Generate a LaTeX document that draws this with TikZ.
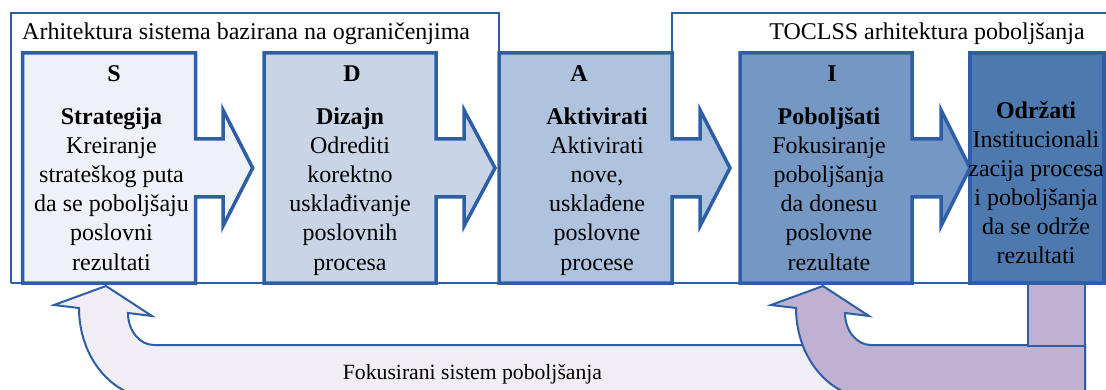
\documentclass[tikz,border=0pt]{standalone}
\usepackage{fontspec}
\setmainfont{Liberation Serif}
\definecolor{bord}{HTML}{2E5FA6}
\definecolor{sfill}{HTML}{EEF1F7}
\definecolor{dfill}{HTML}{C9D5E6}
\definecolor{afill}{HTML}{AFC2DE}
\definecolor{ifill}{HTML}{7597C4}
\definecolor{ofill}{HTML}{4E79AE}
\definecolor{lav}{HTML}{F0EEF4}
\definecolor{purp}{HTML}{BFB1D1}
\newcommand\stagepath[5]{%
  \filldraw[stage, fill=#1] (#2,53) -- (#3,53) -- (#3,139) -- (#4,139) -- (#4,110) -- (#5,168)
    -- (#4,226) -- (#4,197) -- (#3,197) -- (#3,283) -- (#2,283) -- cycle;}
\begin{document}
\begin{tikzpicture}[x=1pt,y=-1pt,
  frame/.style={draw=bord, line width=2pt},
  stage/.style={draw=bord, line width=3.5pt, line join=miter, miter limit=10},
  uarrow/.style={draw=bord, line width=2pt, line join=miter, miter limit=10},
  txt/.style={inner sep=0pt, anchor=base, font=\fontsize{24}{29}\selectfont},
  btxt/.style={txt, font=\fontsize{24}{29}\selectfont\bfseries}]
\useasboundingbox (0,0) rectangle (1106,390);
\clip (0,0) rectangle (1106,390);
% frames
\draw[frame] (10.7,283) -- (10.7,12.7) -- (499,12.7) -- (499,60);
\draw[frame] (672,60) -- (672,12.7) -- (1110,12.7);
\draw[frame] (10.7,283) -- (1110,283);
% bottom feedback arrows
\filldraw[uarrow, fill=lav] (106,286) -- (152,316) -- (128,313)
   .. controls (128,330.7) and (139.6,345) .. (154,345) -- (1085,345) -- (1085,410) -- (154,398)
   .. controls (112.6,398) and (79,357.7) .. (79,308) -- (54,305) -- cycle;
\filldraw[uarrow, fill=purp] (823,286) -- (869,316) -- (845,313)
   .. controls (845,330.7) and (856.6,345) .. (871,345) -- (1085,345) -- (1085,410) -- (871,398)
   .. controls (829.6,398) and (796,357.7) .. (796,308) -- (771,305) -- cycle;
\filldraw[uarrow, fill=purp] (1028,283) rectangle (1085,346);
% stages
\stagepath{sfill}{22.7}{195.5}{223}{252.7}
\stagepath{dfill}{264}{436}{464}{495}
\stagepath{afill}{499}{672}{700}{730}
\stagepath{ifill}{740}{912}{941}{970}
\filldraw[stage, fill=ofill] (970,53) rectangle (1104,283);
% frame titles
\node[txt, anchor=base west] (t1) at (22,40) {Arhitektura sistema bazirana na ograničenjima};
\node[txt, anchor=base east] (t2) at (1085,40) {TOCLSS arhitektura poboljšanja};
\node[txt, font=\fontsize{21.7}{26}\selectfont] (fs) at (472.5,379) {Fokusirani sistem poboljšanja};
% S
\node[btxt] (sl) at (114,82) {S};
\node[btxt] (sh) at (111.5,125) {Strategija};
\foreach \t [count=\i from 0] in {Kreiranje, strateškog puta, da se poboljšaju, poslovni, rezultati}
  \node[txt] (s\i) at (111.5,{154+29*\i}) {\t};
% D
\node[btxt] (dl) at (352,82) {D};
\node[btxt] (dh) at (350,125) {Dizajn};
\foreach \t [count=\i from 0] in {Odrediti, korektno, usklađivanje, poslovnih, procesa}
  \node[txt] (d\i) at (350,{154+29*\i}) {\t};
% A
\node[btxt] (al) at (579,82) {A};
\node[btxt] (ah) at (597,125) {Aktivirati};
\foreach \t [count=\i from 0] in {Aktivirati, {nove,}, usklađene, poslovne, procese}
  \node[txt] (a\i) at (597,{154+29*\i}) {\t};
% I
\node[btxt] (il) at (832,82) {I};
\node[btxt] (ih) at (829,125) {Poboljšati};
\foreach \t [count=\i from 0] in {Fokusiranje, poboljšanja, da donesu, poslovne, rezultate}
  \node[txt] (i\i) at (829,{154+29*\i}) {\t};
% O
\node[btxt] (oh) at (1036,119) {Održati};
\foreach \t [count=\i from 0] in {Institucionali, zacija procesa, i poboljšanja, da se održe, rezultati}
  \node[txt] (o\i) at (1036,{148+29*\i}) {\t};
\end{tikzpicture}
\end{document}
